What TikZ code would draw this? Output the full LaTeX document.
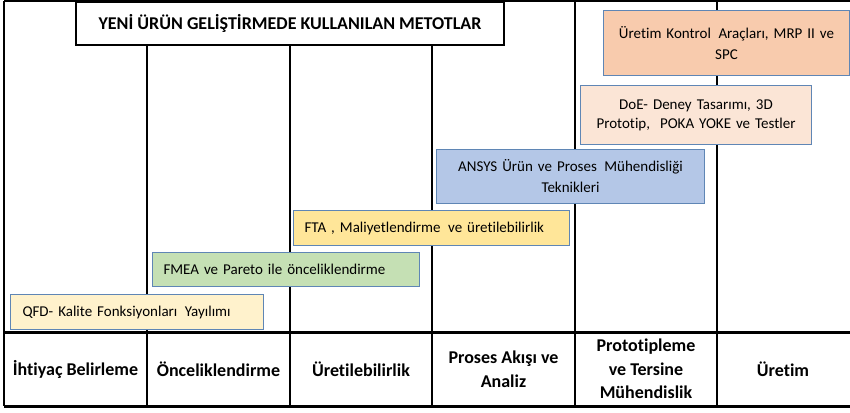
\documentclass[tikz,border=0pt]{standalone}
\usepackage{fontspec}
\setmainfont{Carlito}[Ligatures=CommonOff]
\definecolor{boxblue}{HTML}{5F86B5}
\definecolor{cOrange}{HTML}{F8CBAD}
\definecolor{cPeach}{HTML}{FBE5D6}
\definecolor{cBlue}{HTML}{B4C7E7}
\definecolor{cYellow}{HTML}{FFE699}
\definecolor{cGreen}{HTML}{C5E0B4}
\definecolor{cLight}{HTML}{FFF2CC}
\tikzset{
  mbox/.style={draw=boxblue, line width=1pt, inner sep=0pt, anchor=north west,
    font=\fontsize{15}{21}\selectfont, text=black},
  grid/.style={line width=2pt, black},
  thickgrid/.style={line width=3pt, black},
  lbl/.style={font=\bfseries\fontsize{18}{23.5}\selectfont, align=center, inner sep=0pt},
}
\begin{document}
\begin{tikzpicture}[x=1pt,y=-1pt]
\useasboundingbox (0,0) rectangle (850,412);
% grid
\coordinate (tl) at (4,1);
\coordinate (tr) at (852,1);
\coordinate (bl) at (4,406);
\coordinate (br) at (852,406);
\coordinate (hl) at (4,332);
\coordinate (hr) at (852,332);
\draw[grid] (tl) -- (tr);
\draw[grid] (tl) -- (bl);
\draw[thickgrid] (hl) -- (hr);
\draw[thickgrid] (bl) -- (br);
\coordinate (v1t) at (147,44); \coordinate (v1b) at (147,406);
\coordinate (v2t) at (290,44); \coordinate (v2b) at (290,406);
\coordinate (v3t) at (432,44); \coordinate (v3b) at (432,406);
\coordinate (v4t) at (575,1);  \coordinate (v4b) at (575,406);
\coordinate (v5t) at (717,1);  \coordinate (v5b) at (717,406);
\foreach \v in {v1,v2,v3,v4,v5} \draw[grid] (\v t) -- (\v b);
% title
\node[draw, line width=2pt, fill=white, anchor=north west, minimum width=428pt,
  minimum height=43pt, inner sep=0pt, font=\bfseries\fontsize{18}{21}\selectfont]
  (title) at (75,1) {YENİ ÜRÜN GELİŞTİRMEDE KULLANILAN METOTLAR};
% boxes
\node[mbox, fill=cOrange, minimum width=246pt, minimum height=65pt, text width=246pt, align=center]
  (b1) at (603,10) {Üretim Kontrol\, Araçları, MRP II ve\\SPC};
\node[mbox, fill=cPeach, minimum width=231pt, minimum height=59pt, text width=231pt, align=center,
  font=\fontsize{15}{19}\selectfont]
  (b2) at (580,85) {DoE- Deney Tasarımı, 3D\\Prototip,\ \ POKA YOKE ve Testler};
\node[mbox, fill=cBlue, minimum width=268pt, minimum height=54pt, text width=268pt, align=center]
  (b3) at (436,149) {ANSYS Ürün ve Proses\, Mühendisliği\\Teknikleri};
\node[mbox, fill=cYellow, minimum height=35pt, text width=264pt, inner xsep=6pt, align=left]
  (b4) at (293,210) {\hspace{5pt}FTA , Maliyetlendirme\, ve üretilebilirlik};
\node[mbox, fill=cGreen, minimum height=34pt, text width=255pt, inner xsep=6pt, align=left]
  (b5) at (152,252) {\hspace{5pt}FMEA ve Pareto ile önceliklendirme};
\node[mbox, fill=cLight, minimum height=35pt, text width=241pt, inner xsep=6pt, align=left]
  (b6) at (10,294) {\hspace{6pt}QFD- Kalite Fonksiyonları\, Yayılımı};
% labels
\node[lbl] (l1) at (75.5,369) {İhtiyaç Belirleme};
\node[lbl] (l2) at (218.5,369) {Önceliklendirme};
\node[lbl] (l3) at (361,369) {Üretilebilirlik};
\node[lbl] (l4) at (503.5,369) {Proses Akışı ve\\Analiz};
\node[lbl] (l5) at (646,369) {Prototipleme\\ve Tersine\\Mühendislik};
\node[lbl] (l6) at (783,369) {Üretim};
\end{tikzpicture}
\end{document}
